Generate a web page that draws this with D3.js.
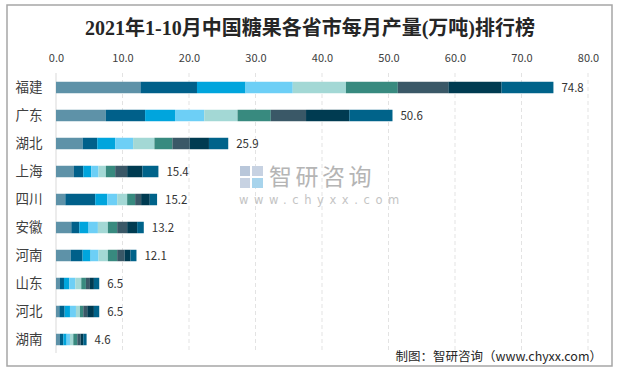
<!DOCTYPE html>
<html>
<head>
<meta charset="utf-8">
<script src="https://cdn.jsdelivr.net/npm/d3@7"></script>
<style>
  body { margin: 0; background: #fff; }
  svg text { font-family: "Noto Sans CJK SC", "Noto Sans", sans-serif; }
</style>
</head>
<body>
<div id="viz"></div>
<script>
document.addEventListener("DOMContentLoaded", () => {

    const width = 619;
    const height = 370;

    const provinces = ["福建", "广东", "湖北", "上海", "四川", "安徽", "河南", "山东", "河北", "湖南"];
    const months = ["1-2月", "3月", "4月", "5月", "6月", "7月", "8月", "9月", "10月"];

    // monthly output per province (万吨), same order as provinces
    const m1_2 = [12.7, 7.5, 4.0, 2.7, 1.4, 2.3, 2.2, 0.6, 0.5, 0.6];
    const m3   = [8.5, 5.9, 2.2, 1.4, 4.5, 1.2, 1.8, 0.6, 0.8, 0.5];
    const m4   = [7.3, 4.5, 2.7, 1.2, 1.8, 1.4, 1.2, 0.8, 0.8, 0.5];
    const m5   = [7.1, 4.4, 2.7, 1.1, 1.5, 1.4, 1.2, 0.9, 0.9, 0.5];
    const m6   = [8.0, 5.0, 3.2, 1.1, 1.5, 1.5, 1.4, 0.9, 0.6, 0.5];
    const m7   = [7.8, 5.0, 2.7, 1.4, 1.2, 1.4, 1.4, 0.7, 0.5, 0.6];
    const m8   = [7.6, 5.3, 2.6, 1.8, 0.9, 1.5, 1.1, 0.6, 0.6, 0.5];
    const m9   = [8.0, 6.5, 2.9, 2.3, 1.3, 1.5, 0.9, 0.6, 1.0, 0.4];
    const m10  = [7.8, 6.5, 2.9, 2.4, 1.1, 1.0, 0.9, 0.8, 0.8, 0.5];
    const totals = [74.8, 50.6, 25.9, 15.4, 15.2, 13.2, 12.1, 6.5, 6.5, 4.6];

    const series = [m1_2, m3, m4, m5, m6, m7, m8, m9, m10];
    const colors = ["#5e92a8", "#00608a", "#00a5dd", "#6dcff6", "#a3d8d5",
                    "#388a7f", "#3a5867", "#003b51", "#00638a"];

    const rows = provinces.map((p, i) => {
        const r = { name: p, total: totals[i] };
        months.forEach((m, j) => r[m] = series[j][i]);
        return r;
    });

    const stacked = d3.stack().keys(months)(rows);

    const svg = d3.select("#viz").append("svg")
        .attr("width", width)
        .attr("height", height);

    // outer frame
    svg.append("rect")
        .attr("x", 7).attr("y", 5)
        .attr("width", 605).attr("height", 361)
        .attr("fill", "#fff")
        .attr("stroke", "#a6a6a6")
        .attr("stroke-width", 1.5);

    const x = d3.scaleLinear().domain([0, 80]).range([56, 588]);
    const y = d3.scaleBand().domain(provinces)
        .range([73.5, 353.5])
        .paddingInner(0.59)
        .paddingOuter(0.295);

    svg.append("text")
        .attr("x", 310).attr("y", 35)
        .attr("text-anchor", "middle")
        .style("font-family", "'Liberation Serif', 'Noto Sans CJK SC', serif")
        .style("font-size", "20px")
        .style("font-weight", "bold")
        .attr("fill", "#262626")
        .text("2021年1-10月中国糖果各省市每月产量(万吨)排行榜");

    // grid lines
    const ticks = x.ticks(8);
    svg.append("g").selectAll("line")
        .data(ticks.slice(1))
        .enter().append("line")
        .attr("x1", d => x(d)).attr("x2", d => x(d))
        .attr("y1", 73).attr("y2", 353)
        .attr("stroke", "#e3e3e3")
        .attr("stroke-dasharray", "4,3");

    svg.append("line")
        .attr("x1", x(0)).attr("x2", x(0))
        .attr("y1", 73).attr("y2", 353)
        .attr("stroke", "#d9d9d9");

    const axis = svg.append("g")
        .attr("transform", "translate(0,62)")
        .call(d3.axisTop(x).ticks(8).tickFormat(d3.format(".1f")).tickSize(0).tickPadding(0));
    axis.select(".domain").remove();
    axis.selectAll("text")
        .style("font-size", "11px")
        .attr("fill", "#404040");

    // stacked bars
    svg.append("g").selectAll("g")
        .data(stacked)
        .enter().append("g")
        .attr("fill", (d, i) => colors[i])
        .selectAll("rect")
        .data(d => d)
        .enter().append("rect")
        .attr("x", d => x(d[0]))
        .attr("y", d => y(d.data.name))
        .attr("width", d => x(d[1]) - x(d[0]))
        .attr("height", y.bandwidth());

    // province labels
    svg.append("g").selectAll("text")
        .data(provinces)
        .enter().append("text")
        .attr("x", 29)
        .attr("y", d => y(d) + y.bandwidth() / 2)
        .attr("dy", "0.35em")
        .attr("text-anchor", "middle")
        .style("font-size", "13.5px")
        .attr("fill", "#404040")
        .text(d => d);

    // totals
    svg.append("g").selectAll("text")
        .data(rows)
        .enter().append("text")
        .attr("x", d => x(d.total) + 8)
        .attr("y", d => y(d.name) + y.bandwidth() / 2)
        .attr("dy", "0.35em")
        .style("font-size", "11.5px")
        .attr("fill", "#333")
        .text(d => d.total.toFixed(1));

    // watermark
    const wm = svg.append("g");
    wm.append("rect").attr("x", 240).attr("y", 166).attr("width", 10).attr("height", 10).attr("fill", "#b9c7da");
    wm.append("rect").attr("x", 252).attr("y", 166).attr("width", 11).attr("height", 10).attr("fill", "#c7d2e2");
    wm.append("rect").attr("x", 240).attr("y", 178).attr("width", 10).attr("height", 10).attr("fill", "#c7d2e2");
    wm.append("rect").attr("x", 252).attr("y", 178).attr("width", 11).attr("height", 10).attr("fill", "#a8d4ec");
    wm.append("text")
        .attr("x", 269).attr("y", 185)
        .style("font-size", "23px")
        .style("letter-spacing", "3.5px")
        .attr("fill", "#b5b5b5")
        .text("智研咨询");
    wm.append("text")
        .attr("x", 239).attr("y", 204)
        .style("font-family", "'DejaVu Sans', sans-serif")
        .style("font-size", "11.5px")
        .style("letter-spacing", "5.6px")
        .attr("fill", "#c4c4c4")
        .text("www.chyxx.com");

    svg.append("text")
        .attr("x", 602).attr("y", 361)
        .attr("text-anchor", "end")
        .style("font-size", "12.5px")
        .attr("fill", "#262626")
        .text("制图：智研咨询（www.chyxx.com）");
});
</script>
</body>
</html>
